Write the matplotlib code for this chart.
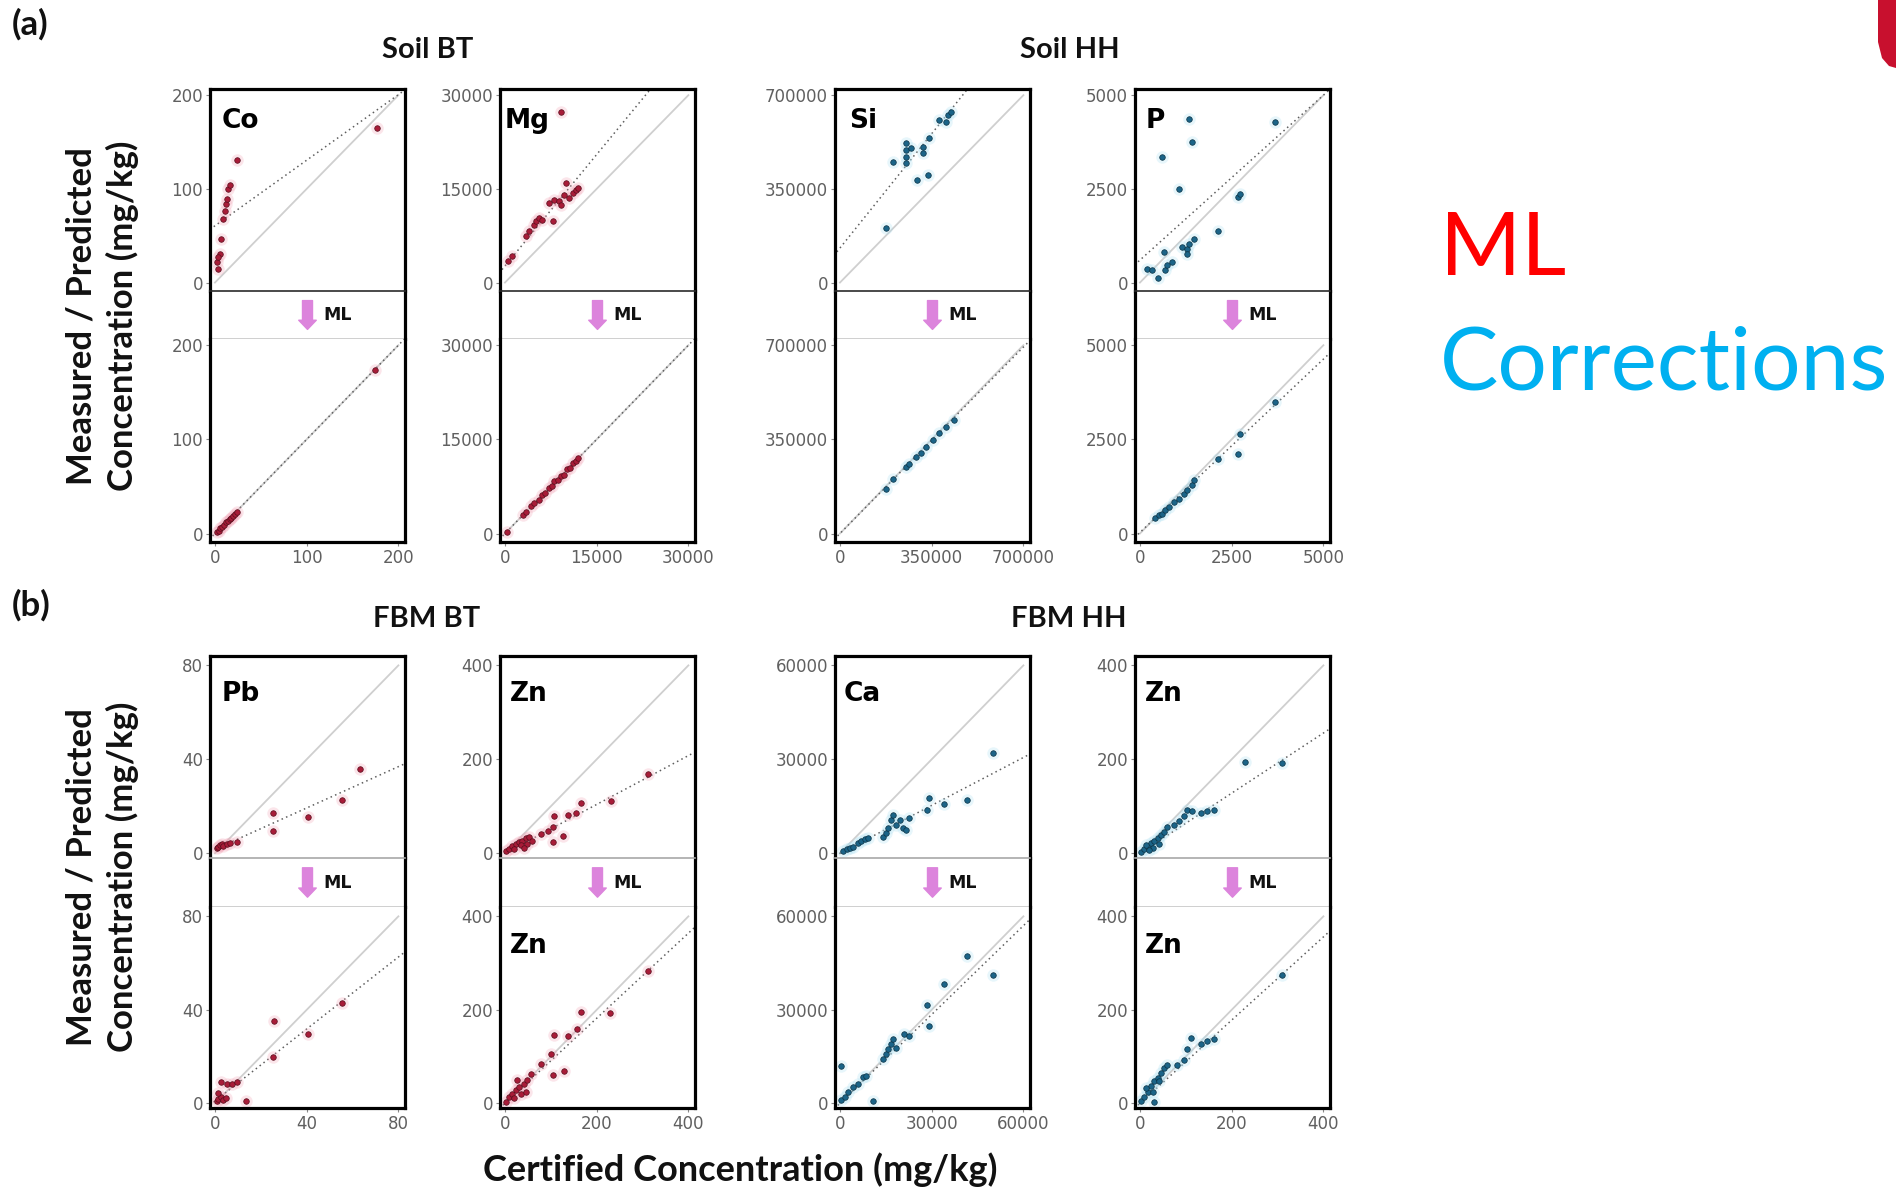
import numpy as np
import matplotlib
matplotlib.use("Agg")
import matplotlib.pyplot as plt
from matplotlib.patches import Polygon

W, H = 1896, 1203

# ---------------- values (mg/kg) ----------------
# Soil BT - Co
co_raw_x = [3.6, 1.8, 5.5, 3.6, 6.2, 9.1, 10.9, 12.0, 13.5, 14.5, 16.4, 24.4, 176.4]
co_raw_y = [14.8, 21.9, 30.7, 27.0, 46.6, 67.7, 76.5, 83.6, 88.9, 99.5, 103.7, 131.2, 164.7]
co_ml_x = [2, 4, 6, 8, 10, 12, 14, 16, 18, 20, 22, 24, 175]
co_ml_y = [2, 3, 6, 7, 9, 12, 13, 15, 17, 19, 21, 23, 174]

# Soil BT - Mg
mg_raw_x = [550, 1100, 3400, 3950, 4770, 5050, 5600, 6140, 7790, 7240, 8060, 8890,
            9160, 9710, 9980, 10530, 11080, 11630, 11900, 9160]
mg_raw_y = [3450, 4250, 7430, 8230, 9290, 9820, 10360, 10090, 9820, 12750, 13280, 13010,
            12480, 14070, 15930, 13540, 14340, 14870, 15140, 27350]
mg_ml_x = [300, 2900, 3500, 4200, 4800, 5500, 6000, 6600, 7200, 7700, 8100, 8600,
           9100, 9600, 10100, 10600, 11100, 11600, 12000]
mg_ml_y = [300, 3000, 3400, 4400, 4900, 5400, 6200, 6500, 7300, 7600, 8300, 8500,
           9200, 9400, 10300, 10500, 11200, 11500, 12100]

# Soil HH - Si
si_raw_x = [174000, 202000, 253000, 253000, 253000, 253000, 272000, 293000, 316000,
            316000, 335000, 341000, 379000, 405000, 411000, 424000]
si_raw_y = [204000, 452000, 520000, 495000, 470000, 445000, 502000, 384000, 508000,
            483000, 403000, 539000, 607000, 601000, 626000, 638000]
si_ml_x = [174000, 202000, 253000, 265000, 291000, 310000, 329000, 354000, 379000,
           405000, 436000]
si_ml_y = [167000, 204000, 248000, 258000, 285000, 300000, 322000, 347000, 372000,
           396000, 421000]

# Soil HH - P
p_raw_x = [1330, 600, 1420, 1070, 3670, 2140, 2680, 2730, 650, 200, 330, 500, 690,
           740, 880, 1150, 1280, 1330, 1460, 1280]
p_raw_y = [4360, 3350, 3740, 2500, 4290, 1380, 2290, 2350, 810, 370, 330, 110, 330,
           460, 560, 940, 900, 1030, 1160, 770]
p_ml_x = [420, 510, 600, 690, 790, 920, 1060, 1190, 1280, 1420, 1460, 2140, 2680, 2730, 3670]
p_ml_y = [400, 490, 530, 620, 710, 840, 930, 1060, 1150, 1280, 1420, 1990, 2120, 2650, 3500]

# FBM BT - Pb
pb_raw_x = [0.7, 1.5, 2.2, 2.9, 3.6, 5.1, 6.5, 9.7, 25.5, 25.2, 40.7, 55.3, 63.3]
pb_raw_y = [2.1, 2.8, 3.5, 4.0, 3.1, 4.0, 4.2, 5.0, 17.3, 9.6, 15.3, 22.7, 35.7]
pb_ml_x = [0.7, 1.5, 2.5, 3.6, 4.8, 1.5, 2.5, 5.1, 7.3, 9.7, 13.5, 25.5, 25.7, 40.7, 55.3]
pb_ml_y = [1.0, 2.0, 2.8, 1.4, 2.4, 4.6, 9.1, 8.1, 8.1, 9.1, 1.0, 19.9, 35.2, 29.5, 43.0]

# FBM BT - Zn
znbt_raw_x = [1.5, 8.8, 16.1, 23.4, 30.7, 38.0, 45.3, 52.7, 34.4, 49.0, 60.0, 19.7, 41.7,
              78.2, 92.9, 103.8, 107.5, 103.8, 125.8, 136.7, 155.0, 166.0, 230.3, 312.2]
znbt_raw_y = [5.4, 10.1, 14.9, 18.9, 23.6, 27.0, 32.4, 35.1, 16.9, 20.3, 27.0, 10.1, 12.2,
              41.9, 47.3, 55.4, 79.7, 23.6, 37.2, 81.1, 86.5, 106.8, 111.5, 168.9]
znbt_ml_x = [1.5, 8.8, 16, 23, 31, 42, 49, 56, 34, 45, 20, 27, 78, 100, 107.5, 104, 128,
             137, 157, 166, 230, 311]
znbt_ml_y = [3.5, 14, 21, 28, 35, 42, 49, 63, 21, 25, 10.5, 49, 84, 105, 147, 60, 70,
             144, 158, 196, 193, 284]

# FBM HH - Ca
ca_raw_x = [1100, 2200, 3200, 4300, 5900, 7000, 8100, 9200, 14000, 15100, 15700, 16800,
            17300, 18400, 19500, 20500, 21600, 22700, 28600, 29200, 34100, 41600, 49900]
ca_raw_y = [700, 1400, 1800, 2100, 3200, 4000, 4500, 5000, 5300, 6400, 8000, 10600,
            12200, 9000, 10600, 8000, 7400, 11200, 13800, 17500, 15700, 17000, 32100]
ca_ml_x = [300, 500, 1600, 2700, 4300, 5900, 7600, 8600, 10800, 14000, 15100, 15700,
           16800, 17300, 18400, 21100, 22700, 28600, 29000, 34100, 41600, 49900]
ca_ml_y = [12100, 1100, 2100, 3700, 5300, 6300, 8400, 8900, 700, 14200, 15800, 17400,
           18900, 20500, 17900, 22100, 21600, 31600, 24700, 38400, 47400, 41100]

# FBM HH - Zn
znhh_raw_x = [2.2, 9.4, 16.6, 23.9, 31.1, 38.3, 45.6, 52.8, 60.0, 13.0, 27.5, 42.0, 20.0,
              74.5, 85.4, 96.2, 103.4, 114.3, 132.4, 146.8, 161.3, 230.0, 309.6]
znhh_raw_y = [3.6, 9.3, 14.3, 21.4, 26.4, 32.1, 39.3, 46.4, 57.0, 17.9, 12.1, 19.3, 7.0,
              60.7, 67.9, 78.6, 92.9, 89.3, 85.7, 89.3, 92.9, 195.0, 192.9]
znhh_ml_x = [2.2, 9.4, 16.6, 23.9, 31.1, 38.3, 45.6, 52.8, 60.0, 13.0, 27.5, 31.0, 42.0,
             81.7, 96.2, 103.4, 110.7, 132.4, 146.8, 161.3, 309.6]
znhh_ml_y = [5.0, 14.4, 25.2, 36.0, 46.8, 54.0, 64.9, 75.7, 82.9, 32.4, 25.2, 3.6, 46.8,
             82.9, 93.7, 115.3, 140.5, 126.1, 133.3, 136.9, 273.9]

# regression lines (slope, intercept) as drawn in the picture
raw_fit = [(0.70, 60.6), (1.19, 2650), (1.22, 129000), (0.88, 600),
           (0.44, 1.7), (0.52, 0), (0.51, 0), (0.64, 0)]
ml_fit = [(1.0, 0), (1.0, 0), (0.99, 0), (0.92, 30),
          (0.77, 1.0), (0.91, 0), (0.95, 0), (0.89, 0)]

axis_max = [200, 30000, 700000, 5000, 80, 400, 60000, 400]
tick_text = [["0", "100", "200"], ["0", "15000", "30000"], ["0", "350000", "700000"],
             ["0", "2500", "5000"], ["0", "40", "80"], ["0", "200", "400"],
             ["0", "30000", "60000"], ["0", "200", "400"]]
upper_names = ["Co", "Mg", "Si", "P", "Pb", "Zn", "Ca", "Zn"]
lower_names = ["", "", "", "", "", "Zn", "", "Zn"]

raw_x = [co_raw_x, mg_raw_x, si_raw_x, p_raw_x, pb_raw_x, znbt_raw_x, ca_raw_x, znhh_raw_x]
raw_y = [co_raw_y, mg_raw_y, si_raw_y, p_raw_y, pb_raw_y, znbt_raw_y, ca_raw_y, znhh_raw_y]
ml_x = [co_ml_x, mg_ml_x, si_ml_x, p_ml_x, pb_ml_x, znbt_ml_x, ca_ml_x, znhh_ml_x]
ml_y = [co_ml_y, mg_ml_y, si_ml_y, p_ml_y, pb_ml_y, znbt_ml_y, ca_ml_y, znhh_ml_y]

# ---------------- layout (pixels) ----------------
col_left = [210, 500, 835, 1135]
panel_w = 195
row_edges = [(89, 291, 339, 542), (656, 858, 907, 1108)]
name_dx = [12, 5, 14, 11, 12, 10, 9, 10]

red_dot, red_edge, red_halo = "#a81c38", "#550d1c", "#f3a3b6"
blue_dot, blue_edge, blue_halo = "#1b6488", "#0b3245", "#a9dff2"


def rect(x0, y0, x1, y1):
    return [x0 / W, 1 - y1 / H, (x1 - x0) / W, (y1 - y0) / H]


def style_ticks(ax):
    ax.tick_params(length=3, width=0.8, color="#8a8a8a", labelcolor="#606060",
                   labelsize=12, pad=2)


def draw_data(ax, xs, ys, fit, M, row, dot, edge, halo):
    xx = np.array([-0.05 * M, 1.1 * M])
    ax.plot([0, M], [0, M], color="#cfcfcf", lw=1.3, zorder=1)
    ax.plot(xx, fit[0] * xx + fit[1], color="#5e5e5e", lw=1.1,
            ls=(0, (1, 2.2)), zorder=2)
    ax.scatter(xs, ys, s=80, color=halo, alpha=0.28, linewidths=0, zorder=2)
    ax.scatter(xs, ys, s=16, color=dot, edgecolors=edge, linewidths=0.5, zorder=3)
    ax.set_xlim(-0.027 * M, 1.036 * M)
    if row == 0:
        ax.set_ylim(-0.045 * M, 1.033 * M)
    else:
        ax.set_ylim(-0.025 * M, 1.05 * M)


fig = plt.figure(figsize=(W / 100, H / 100), dpi=100)

for i in range(8):
    row, col = divmod(i, 4)
    y0, y1, y2, y3 = row_edges[row]
    l = col_left[col]
    M = axis_max[i]
    if col < 2:
        dot, edge, halo = red_dot, red_edge, red_halo
    else:
        dot, edge, halo = blue_dot, blue_edge, blue_halo
    sep1 = "#2a2a2a" if row == 0 else "#a8a8a8"
    sep2 = "#cfcfcf"

    ax_u = fig.add_axes(rect(l, y0, l + panel_w, y1))
    ax_m = fig.add_axes(rect(l, y1, l + panel_w, y2))
    ax_l = fig.add_axes(rect(l, y2, l + panel_w, y3))

    draw_data(ax_u, raw_x[i], raw_y[i], raw_fit[i], M, row, dot, edge, halo)
    draw_data(ax_l, ml_x[i], ml_y[i], ml_fit[i], M, row, dot, edge, halo)

    for ax in (ax_u, ax_l):
        ax.set_yticks([0, M / 2, M])
        ax.set_yticklabels(tick_text[i])
        style_ticks(ax)
    ax_u.set_xticks([])
    ax_l.set_xticks([0, M / 2, M])
    ax_l.set_xticklabels(tick_text[i])
    ax_m.set_xticks([])
    ax_m.set_yticks([])

    for ax in (ax_u, ax_m, ax_l):
        for s in ("left", "right", "top", "bottom"):
            ax.spines[s].set_linewidth(2.3)
            ax.spines[s].set_color("black")
    ax_u.spines["bottom"].set_visible(False)
    ax_l.spines["top"].set_visible(False)
    ax_m.spines["top"].set_color(sep1)
    ax_m.spines["top"].set_linewidth(1.2)
    ax_m.spines["bottom"].set_color(sep2)
    ax_m.spines["bottom"].set_linewidth(1.4)

    # ML arrow
    ax_m.annotate("", xy=(0.5, 0.2), xytext=(0.5, 0.8), xycoords="axes fraction",
                  arrowprops=dict(arrowstyle="simple,head_length=0.55,head_width=1.05,tail_width=0.6",
                                  color="#dc84dc", mutation_scale=12, shrinkA=0, shrinkB=0))
    ax_m.text(0.58, 0.5, "ML", transform=ax_m.transAxes, fontsize=12.5,
              fontweight="bold", va="center", ha="left", color="#111111")

    name_y = 1 - 39 / 202 if row == 0 else 1 - 45 / 202
    ax_u.text(name_dx[i] / panel_w, name_y, upper_names[i], transform=ax_u.transAxes,
              fontsize=19, fontweight="bold", va="baseline", ha="left")
    if lower_names[i]:
        ax_l.text(name_dx[i] / panel_w, 1 - 46 / 201, lower_names[i], transform=ax_l.transAxes,
                  fontsize=19, fontweight="bold", va="baseline", ha="left")


def ftext(x, y, s, **kw):
    fig.text(x / W, 1 - y / H, s, **kw)


bold = dict(family="Lato", fontweight="bold", color="#111111")
ftext(12, 24, "(a)", fontsize=25, va="center", ha="left", **bold)
ftext(12, 605, "(b)", fontsize=25, va="center", ha="left", **bold)
ftext(428, 58, "Soil BT", fontsize=21, va="baseline", ha="center", **bold)
ftext(1070, 58, "Soil HH", fontsize=21, va="baseline", ha="center", **bold)
ftext(427, 627, "FBM BT", fontsize=21, va="baseline", ha="center", **bold)
ftext(1069, 627, "FBM HH", fontsize=21, va="baseline", ha="center", **bold)

ylab = "Measured / Predicted\nConcentration (mg/kg)"
ftext(102, 316, ylab, fontsize=25, rotation=90, va="center", ha="center",
      multialignment="center", linespacing=1.3, **bold)
ftext(102, 877, ylab, fontsize=25, rotation=90, va="center", ha="center",
      multialignment="center", linespacing=1.3, **bold)
ftext(740, 1181, "Certified Concentration (mg/kg)", fontsize=26, va="baseline",
      ha="center", **bold)

ftext(1440, 275, "ML", fontsize=63, family="Lato", color="#ff0000", va="baseline", ha="left")
ftext(1440, 390, "Corrections", fontsize=63, family="Lato", color="#00b0f0",
      va="baseline", ha="left")

# crest fragment at the top-right corner
crest = [(1879, 0), (1896, 0), (1896, 68), (1889, 66), (1882, 58), (1878, 42), (1878, 0)]
fig.patches.append(Polygon([(x / W, 1 - y / H) for x, y in crest], closed=True,
                           transform=fig.transFigure, facecolor="#c8102e",
                           edgecolor="none"))

fig.savefig("out.png", dpi=100, facecolor="white")
